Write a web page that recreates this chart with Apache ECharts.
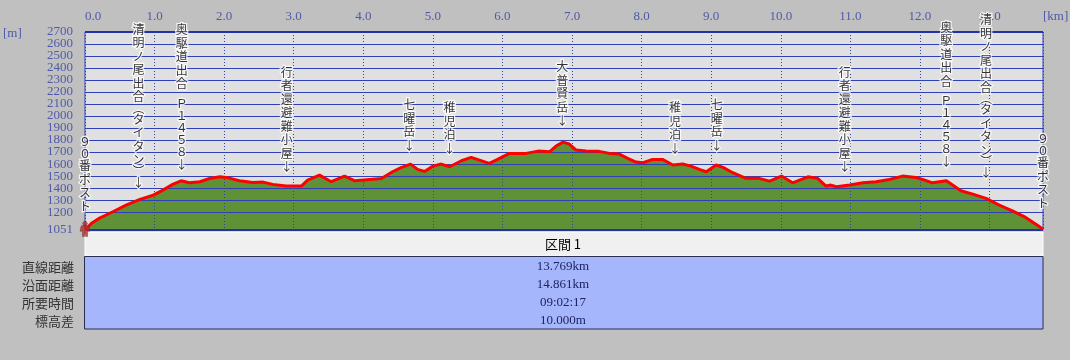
<!DOCTYPE html>
<html><head><meta charset="utf-8">
<script src="https://cdn.jsdelivr.net/npm/echarts@6.0.0/dist/echarts.min.js"></script>
<style>html,body{margin:0;padding:0;background:#c0c0c0;}#c{width:1070px;height:360px;}</style>
</head><body><div id="c"></div>
<script>
// ---- data ----
const distKm = [0, 0.10, 0.21, 0.40, 0.59, 0.79, 0.98, 1.12, 1.26, 1.38, 1.50, 1.65, 1.79, 1.94, 2.03, 2.22, 2.41, 2.56, 2.70, 2.89, 3.11, 3.20, 3.37, 3.54, 3.73, 3.88, 4.09, 4.26, 4.42, 4.55, 4.68, 4.78, 4.88, 5.00, 5.12, 5.24, 5.41, 5.55, 5.67, 5.81, 5.93, 6.10, 6.34, 6.51, 6.68, 6.77, 6.87, 6.96, 7.06, 7.20, 7.39, 7.54, 7.68, 7.80, 7.92, 8.02, 8.16, 8.30, 8.45, 8.59, 8.71, 8.83, 8.93, 9.07, 9.17, 9.31, 9.50, 9.69, 9.84, 10.01, 10.17, 10.39, 10.53, 10.65, 10.72, 10.80, 10.99, 11.18, 11.37, 11.56, 11.75, 11.94, 12.04, 12.18, 12.38, 12.47, 12.59, 12.76, 12.95, 13.14, 13.33, 13.52, 13.71, 13.769];
const elevM  = [1051, 1110, 1150, 1203, 1258, 1306, 1342, 1383, 1431, 1461, 1444, 1453, 1480, 1494, 1489, 1461, 1447, 1450, 1431, 1417, 1417, 1467, 1508, 1453, 1500, 1461, 1472, 1480, 1536, 1572, 1600, 1556, 1539, 1583, 1600, 1578, 1628, 1656, 1633, 1606, 1639, 1689, 1689, 1708, 1703, 1750, 1783, 1767, 1717, 1708, 1706, 1689, 1683, 1647, 1617, 1611, 1639, 1639, 1592, 1600, 1583, 1556, 1536, 1592, 1572, 1528, 1481, 1481, 1458, 1500, 1444, 1494, 1481, 1417, 1425, 1411, 1425, 1444, 1453, 1472, 1500, 1489, 1472, 1444, 1461, 1425, 1378, 1350, 1314, 1258, 1211, 1156, 1083, 1056];
const yTicks = [1051, 1200, 1300, 1400, 1500, 1600, 1700, 1800, 1900, 2000, 2100, 2200, 2300, 2400, 2500, 2600, 2700];
const xMaxKm = 13.769;
const wpNames = ['９０番ポスト', '清明ノ尾出合（タイタン）↓', '奥駆道出合　Ｐ１４５８↓', '行者還避難小屋↓', '七曜岳↓', '稚児泊↓', '大普賢岳↓', '稚児泊↓', '七曜岳↓', '行者還避難小屋↓', '奥駆道出合　Ｐ１４５８↓', '清明ノ尾出合（タイタン）↓', '９０番ポスト'];
const wpKm   = [0, 0.77, 1.39, 2.90, 4.66, 5.24, 6.86, 8.48, 9.08, 10.92, 12.38, 12.95, 13.769];
const wpElev = [1109, 1309, 1458, 1439, 1619, 1592, 1820, 1592, 1619, 1439, 1481, 1389, 1134];
const sectionTitle = '区間 1';
const rowLabels = ['直線距離', '沿面距離', '所要時間', '標高差'];
const rowValues = ['13.769km', '14.861km', '09:02:17', '10.000m'];

// ---- chart ----
const chart = echarts.init(document.getElementById('c'));
const profile = distKm.map((d, i) => [d, elevM[i]]);
const BLUE = '#2f3fb8';
const LBL = '#4f5aa8';
const CJK = '"Noto Sans CJK JP", sans-serif';
const SERIF = '"Liberation Serif", "DejaVu Serif", serif';

function vert(s) {
  return Array.from(s).map(c => {
    if (c === '（') return '{br|︵}';
    if (c === '）') return '{br|︶}';
    if (c === '　') return '{sp| }';
    if (/[Ｐ０-９]/.test(c)) return '{n|' + c + '}';
    return '{k|' + c + '}';
  }).join('\n');
}
const base = {fontFamily: CJK, fontSize: 12, color: '#000', textBorderColor: '#fff', textBorderWidth: 2.5, align: 'center'};
const rich = {
  k: Object.assign({}, base, {lineHeight: 13.5}),
  n: Object.assign({}, base, {lineHeight: 12}),
  br: Object.assign({}, base, {lineHeight: 9}),
  sp: Object.assign({}, base, {lineHeight: 7})
};

const graphics = [
  {type: 'text', left: 3, top: 27, style: {text: '[m]', font: '13px ' + SERIF, fill: LBL}},
  {type: 'rect', shape: {x: 85, y: 232, width: 958, height: 24}, style: {fill: '#f0f0f0', stroke: '#ffffff', lineWidth: 1}},
  {type: 'text', x: 563, y: 244, style: {text: sectionTitle, font: '13px ' + CJK, fill: '#000', align: 'center', verticalAlign: 'middle'}},
  {type: 'rect', shape: {x: 84.5, y: 256.5, width: 958.5, height: 72.5}, style: {fill: '#a6b6fc', stroke: '#2a2f50', lineWidth: 1}}
];
rowLabels.forEach((t, i) => {
  graphics.push({type: 'text', x: 74, y: 267 + i * 18, style: {text: t, font: '13px ' + CJK, fill: '#333', align: 'right', verticalAlign: 'middle'}});
});
rowValues.forEach((t, i) => {
  graphics.push({type: 'text', x: 563, y: 267 + i * 18, style: {text: t, font: '13px ' + SERIF, fill: '#1e2460', align: 'center', verticalAlign: 'middle'}});
});

chart.setOption({
  backgroundColor: '#c0c0c0',
  animation: false,
  grid: {left: 85, right: 27, top: 32, bottom: 130, show: true, backgroundColor: '#e0e0e0', borderColor: BLUE, borderWidth: 1, outerBoundsMode: 'none', containLabel: false},
  xAxis: {
    type: 'value', position: 'top', min: 0, max: xMaxKm, interval: 1, z: 3,
    axisLine: {show: false}, axisTick: {show: false},
    axisLabel: {
      margin: 9, color: LBL, fontFamily: SERIF, fontSize: 13, alignMinLabel: 'left', alignMaxLabel: 'left', hideOverlap: false,
      formatter: v => (Math.abs(v - xMaxKm) < 1e-6 ? '[km]' : (Math.abs(v - Math.round(v)) < 1e-6 ? v.toFixed(1) : ''))
    },
    splitLine: {show: true, lineStyle: {color: BLUE, type: [1, 2], width: 1}}
  },
  yAxis: {
    type: 'value', min: 1051, max: 2700,
    axisLine: {show: false}, axisTick: {show: false},
    axisLabel: {show: false},
    splitLine: {show: false}
  },
  graphic: graphics,
  series: [
    {
      type: 'line', data: profile, showSymbol: false, z: 2, silent: true,
      lineStyle: {width: 0}, areaStyle: {color: '#5f9137', opacity: 1}
    },
    {
      type: 'line', data: [], z: 3, silent: true,
      markLine: {
        silent: true, symbol: 'none', z: 3,
        label: {show: true, position: 'start', distance: 12, color: LBL, fontFamily: SERIF, fontSize: 13,
          formatter: p => String(Math.round(p.value))},
        data: yTicks.map(v => ({yAxis: v, lineStyle: {color: (v === 2700 || v === 1051) ? '#2233aa' : BLUE, width: (v === 2700 || v === 1051) ? 2 : 1, type: 'solid'}}))
      }
    },
    {
      type: 'line', data: profile, showSymbol: false, z: 4, silent: true,
      lineStyle: {color: '#ff0000', width: 3}
    },
    {
      type: 'scatter', z: 6, silent: true, symbolSize: 0,
      data: wpKm.map((k, i) => ({value: [k, wpElev[i]], name: wpNames[i]})),
      label: {show: true, position: 'top', distance: 10, formatter: p => vert(p.name), rich: rich}
    },
    {
      type: 'scatter', z: 7, silent: true, data: [[0, 1051]],
      symbol: 'path://M4,0 L6,0 L7,2 L6,4 L4,4 L3,2 Z M2,4 L8,4 L9,9 L7,9 L7,14 L5.5,14 L5,10 L4.5,14 L3,14 L3,9 L1,9 Z',
      symbolSize: [10, 15], symbolOffset: [0, -1], itemStyle: {color: '#b8282d', borderColor: '#5a3020', borderWidth: 0.5}
    }
  ]
});
</script>
</body></html>
